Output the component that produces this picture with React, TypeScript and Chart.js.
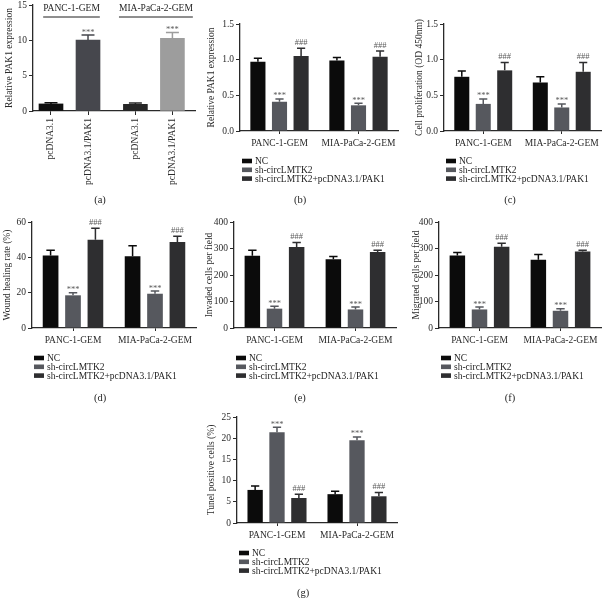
import React, { useEffect, useRef } from 'react';
import { Chart, registerables } from 'chart.js';

Chart.register(...registerables);

const FONT = '"Liberation Serif", "DejaVu Serif", serif';
const INK = '#2a2a2a';

// ---------- shared categories / series ----------
const groups = ['PANC-1-GEM', 'MIA-PaCa-2-GEM'];
const seriesNames = ['NC', 'sh-circLMTK2', 'sh-circLMTK2+pcDNA3.1/PAK1'];
const seriesMarks = ['', '***', '###'];
const seriesColors = ['#0b0b0b', '#56585e', '#2e2e30'];

// ---------- panel (a) ----------
const aLabels = ['pcDNA3.1', 'pcDNA3.1/PAK1', 'pcDNA3.1', 'pcDNA3.1/PAK1'];
const aGroups = ['PANC-1-GEM', 'MIA-PaCa-2-GEM'];
const aValues = [1.0, 10.05, 0.94, 10.28];
const aErrors = [1.18, 10.75, 1.13, 11.1];
const aMarks = ['', '***', '', '***'];
const aColors = ['#0f0f0f', '#46474d', '#262626', '#9d9d9d'];
const aTicks = [0, 5, 10, 15];

// ---------- panel (b) Relative PAK1 expression ----------
const bNC = [0.97, 0.99];
const bSh = [0.41, 0.36];
const bRes = [1.05, 1.04];
const bNCErr = [1.02, 1.03];
const bShErr = [0.45, 0.39];
const bResErr = [1.16, 1.12];
const bTicks = [0, 0.5, 1.0, 1.5];

// ---------- panel (c) Cell proliferation ----------
const cNC = [0.76, 0.68];
const cSh = [0.38, 0.33];
const cRes = [0.85, 0.83];
const cNCErr = [0.84, 0.76];
const cShErr = [0.45, 0.38];
const cResErr = [0.96, 0.96];
const cTicks = [0, 0.5, 1.0, 1.5];

// ---------- panel (d) Wound healing rate ----------
const dNC = [41.1, 40.6];
const dSh = [18.5, 19.4];
const dRes = [50.0, 48.7];
const dNCErr = [44.0, 46.5];
const dShErr = [20.0, 20.9];
const dResErr = [56.5, 52.0];
const dTicks = [0, 20, 40, 60];

// ---------- panel (e) Invaded cells ----------
const eNC = [273, 259];
const eSh = [73, 70];
const eRes = [306, 287];
const eNCErr = [293, 270];
const eShErr = [82, 79];
const eResErr = [323, 293];
const eTicks = [0, 100, 200, 300, 400];

// ---------- panel (f) Migrated cells ----------
const fNC = [274, 258];
const fSh = [70, 65];
const fRes = [307, 289];
const fNCErr = [285, 277];
const fShErr = [79, 73];
const fResErr = [320, 293];
const fTicks = [0, 100, 200, 300, 400];

// ---------- panel (g) Tunel positive cells ----------
const gNC = [7.8, 6.8];
const gSh = [21.4, 19.5];
const gRes = [5.9, 6.3];
const gNCErr = [8.7, 7.5];
const gShErr = [22.6, 20.3];
const gResErr = [6.8, 7.2];
const gTicks = [0, 5, 10, 15, 20, 25];

const errorBarPlugin = {
  id: 'errorBars',
  afterDatasetsDraw(chart: any) {
    const ctx = chart.ctx;
    const ys = chart.scales.y;
    chart.data.datasets.forEach((ds: any, i: number) => {
      const meta = chart.getDatasetMeta(i);
      meta.data.forEach((el: any, j: number) => {
        const top = ds.errorTop ? ds.errorTop[j] : null;
        if (top == null) return;
        const color = Array.isArray(ds.backgroundColor) ? ds.backgroundColor[j] : ds.backgroundColor;
        const yTop = ys.getPixelForValue(top);
        const w = el.width;
        ctx.save();
        ctx.strokeStyle = color;
        ctx.lineWidth = 1.5;
        ctx.beginPath();
        ctx.moveTo(el.x, el.y);
        ctx.lineTo(el.x, yTop);
        ctx.moveTo(el.x - w * 0.27, yTop);
        ctx.lineTo(el.x + w * 0.27, yTop);
        ctx.stroke();
        const mark = ds.marks ? ds.marks[j] : '';
        if (mark) {
          ctx.fillStyle = '#5a5a5a';
          ctx.font = `8.5px ${FONT}`;
          ctx.textAlign = 'center';
          ctx.textBaseline = 'alphabetic';
          ctx.fillText(mark, el.x, yTop - (mark[0] === '*' ? 0.5 : 3.5));
        }
        ctx.restore();
      });
    });
  },
};

type GroupedPanel = {
  axisX: number; top: number; bottom: number; right: number; yW: number;
  title: string; ticks: number[]; decimals: number;
  series: number[][]; errors: number[][];
  label: string; labelX: number; labelY: number;
};

const panels: GroupedPanel[] = [
  { axisX: 240, top: 24, bottom: 131, right: 398, yW: 34, title: 'Relative PAK1 expression', ticks: bTicks, decimals: 1,
    series: [bNC, bSh, bRes], errors: [bNCErr, bShErr, bResErr], label: '(b)', labelX: 300, labelY: 200 },
  { axisX: 444, top: 24, bottom: 131, right: 601, yW: 30, title: 'Cell proliferation (OD 450nm)', ticks: cTicks, decimals: 1,
    series: [cNC, cSh, cRes], errors: [cNCErr, cShErr, cResErr], label: '(c)', labelX: 510, labelY: 200 },
  { axisX: 32, top: 222, bottom: 328, right: 196, yW: 30, title: 'Wound healing rate (%)', ticks: dTicks, decimals: 0,
    series: [dNC, dSh, dRes], errors: [dNCErr, dShErr, dResErr], label: '(d)', labelX: 100, labelY: 398 },
  { axisX: 234, top: 222, bottom: 328, right: 396, yW: 30, title: 'Invaded cells per field', ticks: eTicks, decimals: 0,
    series: [eNC, eSh, eRes], errors: [eNCErr, eShErr, eResErr], label: '(e)', labelX: 300, labelY: 398 },
  { axisX: 439, top: 222, bottom: 328, right: 601, yW: 28, title: 'Migrated cells per field', ticks: fTicks, decimals: 0,
    series: [fNC, fSh, fRes], errors: [fNCErr, fShErr, fResErr], label: '(f)', labelX: 510, labelY: 398 },
  { axisX: 237, top: 417, bottom: 523, right: 397, yW: 31, title: 'Tunel positive cells (%)', ticks: gTicks, decimals: 0,
    series: [gNC, gSh, gRes], errors: [gNCErr, gShErr, gResErr], label: '(g)', labelX: 303, labelY: 593 },
];

function yAxis(ticks: number[], decimals: number, title: string, yW: number) {
  return {
    min: ticks[0],
    max: ticks[ticks.length - 1],
    bounds: 'data',
    afterBuildTicks: (s: any) => { s.ticks = ticks.map((v) => ({ value: v })); },
    ticks: {
      callback: (v: any) => Number(v).toFixed(decimals),
      font: { family: FONT, size: 9.5 },
      color: INK,
      padding: 2,
    },
    grid: { display: true, drawOnChartArea: false, drawTicks: true, tickLength: 4, color: INK, lineWidth: 1 },
    border: { display: true, color: INK, width: 1.3 },
    title: { display: true, text: title, font: { family: FONT, size: 9.5 }, color: INK, padding: { top: 0, bottom: 0 } },
    afterFit: (s: any) => { s.width = yW; },
  };
}

function GroupedChart({ p }: { p: GroupedPanel }) {
  const ref = useRef<HTMLCanvasElement>(null);
  const left = p.axisX - p.yW;
  const top = p.top - 8;
  const width = p.right + 3 - left;
  const height = p.labelY + 10 - top;
  useEffect(() => {
    const canvas = ref.current!;
    const xH = 20;
    const padBottom = height - 8 - (p.bottom - p.top) - xH;
    const decoPlugin = {
      id: 'deco',
      afterDraw(chart: any) {
        const ctx = chart.ctx;
        const ca = chart.chartArea;
        ctx.save();
        ctx.font = `9.5px ${FONT}`;
        ctx.textBaseline = 'middle';
        ctx.textAlign = 'left';
        chart.data.datasets.forEach((ds: any, i: number) => {
          const y = ca.bottom + 30 + i * 8.8;
          ctx.fillStyle = ds.backgroundColor;
          ctx.fillRect(ca.left + 2, y - 2.3, 10, 4.6);
          ctx.fillStyle = '#1e1e1e';
          ctx.fillText(ds.label, ca.left + 15, y + 0.5);
        });
        ctx.font = `10.5px ${FONT}`;
        ctx.textAlign = 'center';
        ctx.fillStyle = '#1e1e1e';
        ctx.fillText(p.label, p.labelX - left, p.labelY - top);
        ctx.restore();
      },
    };
    const chart = new Chart(canvas, {
      type: 'bar',
      data: {
        labels: groups,
        datasets: seriesNames.map((name, i) => ({
          label: name,
          data: p.series[i],
          backgroundColor: seriesColors[i],
          borderWidth: 0,
          categoryPercentage: 0.82,
          barPercentage: 0.7,
          errorTop: p.errors[i],
          marks: groups.map(() => seriesMarks[i]),
        })) as any,
      },
      options: {
        responsive: false,
        animation: false,
        devicePixelRatio: 1,
        layout: { padding: { left: 0, top: 8, right: 3, bottom: padBottom } },
        plugins: { legend: { display: false }, tooltip: { enabled: false } },
        scales: {
          x: {
            grid: { display: true, drawOnChartArea: false, offset: false, drawTicks: true, tickLength: 3, color: INK, lineWidth: 1 },
            border: { display: true, color: INK, width: 1.3 },
            ticks: { font: { family: FONT, size: 9.5 }, color: INK, padding: 3.5, autoSkip: false, maxRotation: 0 },
            afterFit: (s: any) => { s.height = xH; },
          },
          y: yAxis(p.ticks, p.decimals, p.title, p.yW) as any,
        },
      } as any,
      plugins: [errorBarPlugin, decoPlugin],
    });
    return () => chart.destroy();
  }, []);
  return (
    <canvas ref={ref} width={width} height={height}
      style={{ position: 'absolute', left, top, width, height }} />
  );
}

function PanelA() {
  const ref = useRef<HTMLCanvasElement>(null);
  const axisX = 33, top = 5, bottom = 111, right = 195, yW = 29;
  const cl = axisX - yW;
  const ct = top - 8;
  const cw = right + 3 - cl;
  const ch = 210 - ct;
  useEffect(() => {
    const canvas = ref.current!;
    const xH = 76;
    const padBottom = ch - 8 - (bottom - top) - xH;
    const pos = (i: number) => i + (i >= 2 ? 0.28 : 0);
    const headerPlugin = {
      id: 'headers',
      afterDraw(chart: any) {
        const ctx = chart.ctx;
        const ca = chart.chartArea;
        const meta = chart.getDatasetMeta(0);
        ctx.save();
        ctx.font = `9.5px ${FONT}`;
        ctx.textAlign = 'center';
        ctx.textBaseline = 'middle';
        ctx.fillStyle = '#1e1e1e';
        ctx.strokeStyle = '#1e1e1e';
        ctx.lineWidth = 1;
        [[0, 1], [2, 3]].forEach(([a, b], g) => {
          const ea = meta.data[a], eb = meta.data[b];
          const cx = (ea.x - ea.width / 2 + eb.x + eb.width / 2) / 2 + 2;
          const tw = ctx.measureText(aGroups[g]).width;
          ctx.fillText(aGroups[g], cx, ca.top + 3.5);
          ctx.beginPath();
          ctx.moveTo(cx - tw / 2, ca.top + 12);
          ctx.lineTo(cx + tw / 2, ca.top + 12);
          ctx.stroke();
        });
        ctx.font = `10.5px ${FONT}`;
        ctx.fillText('(a)', 100 - cl, 200 - ct);
        ctx.restore();
      },
    };
    const chart = new Chart(canvas, {
      type: 'bar',
      data: {
        datasets: [{
          label: 'PAK1',
          data: aValues.map((v, i) => ({ x: pos(i), y: v })),
          backgroundColor: aColors,
          borderWidth: 0,
          barThickness: 24,
          errorTop: aErrors,
          marks: aMarks,
        }] as any,
      },
      options: {
        responsive: false,
        animation: false,
        devicePixelRatio: 1,
        layout: { padding: { left: 0, top: 8, right: 3, bottom: padBottom } },
        plugins: { legend: { display: false }, tooltip: { enabled: false } },
        scales: {
          x: {
            type: 'linear',
            min: -0.486,
            max: 3.89,
            bounds: 'data',
            offset: false,
            afterBuildTicks: (s: any) => { s.ticks = aLabels.map((_, i) => ({ value: pos(i) })); },
            grid: { display: true, drawOnChartArea: false, offset: false, drawTicks: true, tickLength: 4, color: INK, lineWidth: 1 },
            border: { display: true, color: INK, width: 1.3 },
            ticks: {
              callback: (_v: any, i: number) => aLabels[i],
              font: { family: FONT, size: 9.5 },
              color: INK,
              padding: 3,
              autoSkip: false,
              minRotation: 90,
              maxRotation: 90,
            },
            afterFit: (s: any) => { s.height = xH; },
          },
          y: yAxis(aTicks, 0, 'Relative PAK1 expression', yW) as any,
        },
      } as any,
      plugins: [errorBarPlugin, headerPlugin],
    });
    return () => chart.destroy();
  }, []);
  return (
    <canvas ref={ref} width={cw} height={ch}
      style={{ position: 'absolute', left: cl, top: ct, width: cw, height: ch }} />
  );
}

export default function App() {
  return (
    <div style={{ position: 'fixed', left: 0, top: 0, width: 604, height: 598, background: '#ffffff', overflow: 'hidden' }}>
      <PanelA />
      {panels.map((p) => <GroupedChart key={p.label} p={p} />)}
    </div>
  );
}
